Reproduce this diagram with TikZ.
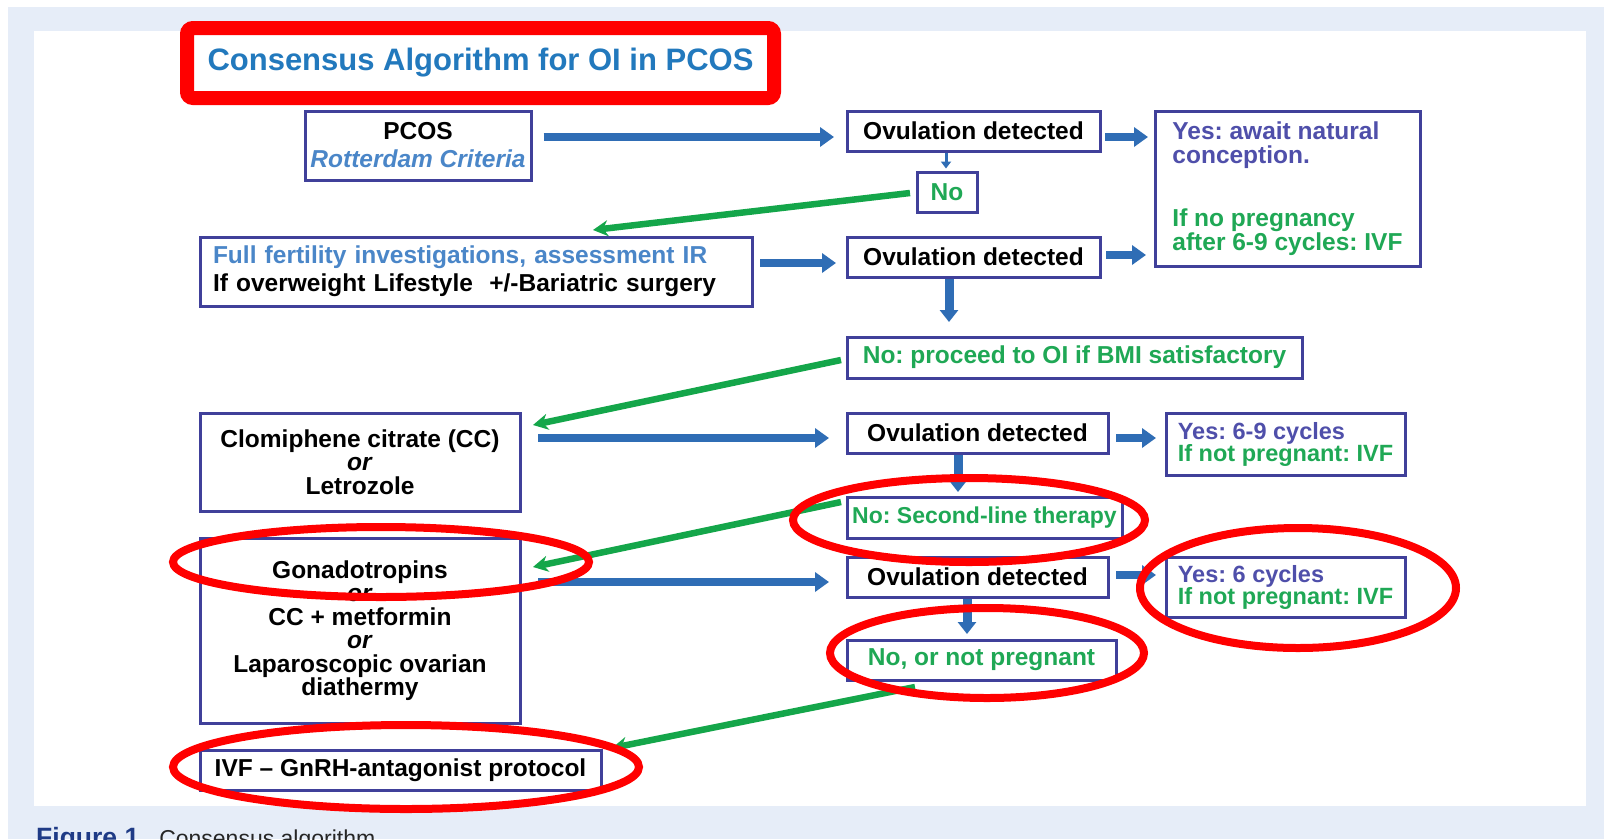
\documentclass[tikz,border=0pt]{standalone}
\usepackage{fontspec}
\setmainfont{Liberation Sans}
\usetikzlibrary{arrows.meta}

\definecolor{bgblue}{HTML}{E6EDF8}
\definecolor{boxline}{HTML}{40409A}
\definecolor{arrowblue}{HTML}{2F6DB5}
\definecolor{arrowgreen}{HTML}{14A64A}
\definecolor{textgreen}{HTML}{1FA855}
\definecolor{textblue}{HTML}{4F4FAA}
\definecolor{lightblue}{HTML}{4A86C8}
\definecolor{titleblue}{HTML}{2279BD}
\definecolor{capblue}{HTML}{1F3B86}

\begin{document}
\frenchspacing
\begin{tikzpicture}[x=1pt, y=-1pt,
	box/.style={draw=boxline, line width=3pt, fill=white, inner sep=0pt, align=center, font=\bfseries\fontsize{24.5}{23.5}\selectfont},
	leftbox/.style={box, align=left},
	bluearrow/.style={draw=arrowblue, line width=8pt, -{Triangle[length=14pt,width=19pt]}},
	downarrow/.style={draw=arrowblue, line width=9pt, -{Triangle[length=12pt,width=18pt]}},
	greenarrow/.style={draw=arrowgreen, line width=6.5pt, -{Stealth[length=15pt,width=16pt]}},
	ring/.style={draw=red, line width=8pt}]

				\useasboundingbox (0,0) rectangle (1604,839);
				\fill[white] (0,0) rectangle (1604,839);
				\fill[bgblue] (8,7) rectangle (1604,839);
				\fill[white] (34,31) rectangle (1586,806);

				\node [draw=red, line width=14pt, rounded corners=6pt, fill=white, minimum width=587, minimum height=70, inner sep=0pt, text=titleblue, font=\bfseries\fontsize{31}{31}\selectfont] (title) at (480.5,63) {Consensus Algorithm for OI in PCOS\hspace{10pt}};

				\node [box, minimum width=226, minimum height=69] (pcos) at (418,145.5) {PCOS\\[4.5pt]{\color{lightblue}\itshape Rotterdam Criteria}};
				\node [box, minimum width=253, minimum height=40] (ovA) at (973.5,131) {Ovulation detected};
				\node [box, minimum width=60, minimum height=40, text=textgreen] (noA) at (947,192) {No};
				\node [leftbox, minimum width=265, minimum height=155] (yesA) at (1287.5,188.5) {{\color{textblue}Yes: await natural}\\{\color{textblue}conception.}\\[40pt]{\color{textgreen}If no pregnancy}\\{\color{textgreen}after 6-9 cycles: IVF}};

				\node [leftbox, text width=526, inner xsep=13pt, minimum height=69] (full) at (476,271.5) {{\color{lightblue}Full fertility investigations, assessment IR}\\[4.5pt]If overweight Lifestyle\ \ +/-Bariatric surgery};
				\node [box, minimum width=253, minimum height=40] (ovB) at (973.5,257) {Ovulation detected};
				\node [box, minimum width=455, minimum height=41, text=textgreen] (proceed) at (1074.5,357.5) {No: proceed to OI if BMI satisfactory};

				\node [box, minimum width=320, minimum height=98] (clomi) at (360,462) {Clomiphene citrate (CC)\\\textit{or}\\Letrozole};
				\node [box, minimum width=261, minimum height=40] (ovC) at (977.5,433) {Ovulation detected};
				\node [leftbox, minimum width=239, minimum height=62, font=\bfseries\fontsize{23.5}{22}\selectfont] (yesC) at (1285.5,444) {{\color{textblue}Yes: 6-9 cycles}\\{\color{textgreen}If not pregnant: IVF}};
				\node [box, minimum width=275, minimum height=41, text=textgreen, font=\bfseries\fontsize{23}{23}\selectfont] (second) at (984.5,517.5) {No: Second-line therapy};

				\node [box, minimum width=320, minimum height=185] (gonad) at (360,630.5) {Gonadotropins\\\textit{or}\\CC + metformin\\\textit{or}\\Laparoscopic ovarian\\diathermy};
				\node [box, minimum width=261, minimum height=40] (ovD) at (977.5,577) {Ovulation detected};
				\node [leftbox, minimum width=239, minimum height=60, font=\bfseries\fontsize{23.5}{22}\selectfont] (yesD) at (1285.5,587) {{\color{textblue}Yes: 6 cycles}\\{\color{textgreen}If not pregnant: IVF}};
				\node [box, minimum width=269, minimum height=40, text=textgreen] (notpreg) at (981.5,660) {No, or not pregnant};

				\node [box, minimum width=401, minimum height=40] (ivf) at (400.5,770) {IVF \textendash{} GnRH-antagonist protocol};

				\node [anchor=base west, inner sep=0pt, text=black!85, font=\fontsize{23}{23}\selectfont] (caption) at (36,846) {{\color{capblue}\bfseries\fontsize{26.5}{26.5}\selectfont Figure 1}\hspace{20pt}Consensus algorithm};

				\draw [bluearrow] ([xshift=11pt,yshift=8.5pt]pcos.east) -- ([xshift=-11.5pt,yshift=-6pt]ovA.west);
				\draw [bluearrow] ([xshift=3.5pt,yshift=-6pt]ovA.east) -- ([xshift=-5.5pt,yshift=51.5pt]yesA.west);
				\draw [draw=arrowblue, line width=3pt, -{Triangle[length=7pt,width=10pt]}] ([xshift=-27.5pt]ovA.south) -- ([xshift=-1pt,yshift=2pt]noA.north);
				\draw [bluearrow] ([xshift=6.5pt,yshift=8.5pt]full.east) -- ([xshift=-9.5pt,yshift=-6pt]ovB.west);
				\draw [bluearrow] ([xshift=4.5pt,yshift=2pt]ovB.east) -- ([xshift=-7.5pt,yshift=-66.5pt]yesA.west);
				\draw [downarrow] ([xshift=-24.5pt]ovB.south) -- ([xshift=-125.5pt,yshift=13.5pt]proceed.north);
				\draw [bluearrow] ([xshift=16.5pt,yshift=24pt]clomi.east) -- ([xshift=-16.5pt,yshift=-5pt]ovC.west);
				\draw [bluearrow] ([xshift=6.5pt,yshift=-5pt]ovC.east) -- ([xshift=-8.5pt,yshift=6pt]yesC.west);
				\draw [downarrow] ([xshift=-19.5pt]ovC.south) -- ([xshift=-26.5pt,yshift=3.5pt]second.north);
				\draw [bluearrow] ([xshift=16.5pt,yshift=48.5pt]gonad.east) -- ([xshift=-16.5pt,yshift=-5pt]ovD.west);
				\draw [bluearrow] ([xshift=6.5pt,yshift=2pt]ovD.east) -- ([xshift=-8.5pt,yshift=12pt]yesD.west);
				\draw [downarrow] ([xshift=-10.5pt]ovD.south) -- ([xshift=-14.5pt,yshift=4.5pt]notpreg.north);

				\draw [greenarrow] ([xshift=-5.5pt,yshift=-1pt]noA.west) -- ([xshift=117pt,yshift=5.5pt]full.north);
				\draw [greenarrow] ([xshift=-4.5pt,yshift=-2.5pt]proceed.west) -- ([xshift=11.5pt,yshift=-13.5pt]clomi.north east);
				\draw [greenarrow] ([xshift=-4.5pt,yshift=15.5pt]second.west) -- ([xshift=11.5pt,yshift=-30.5pt]gonad.north east);
				\draw [greenarrow] ([xshift=69.5pt,yshift=-5.5pt]notpreg.south west) -- ([xshift=9.5pt,yshift=0.5pt]ivf.north east);

				\draw [ring] (381,562) ellipse [x radius=208, y radius=35];
				\draw [ring] (406,767) ellipse [x radius=233, y radius=42];
				\draw [ring] (969,520) ellipse [x radius=176, y radius=42];
				\draw [ring] (1298,588) ellipse [x radius=158, y radius=60];
				\draw [ring] (987,653) ellipse [x radius=157, y radius=45];
		\end{tikzpicture}
\end{document}
